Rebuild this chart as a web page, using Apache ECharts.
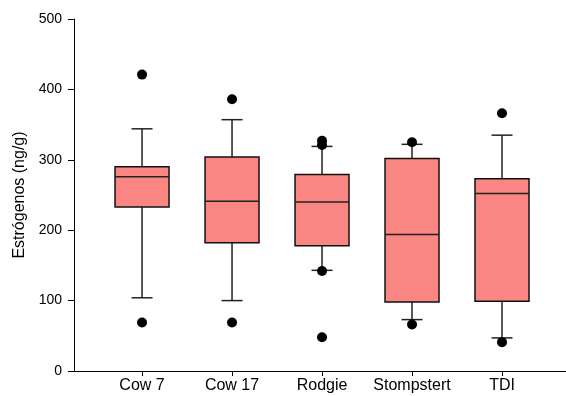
<!DOCTYPE html>
<html><head><meta charset="utf-8">
<script src="https://cdn.jsdelivr.net/npm/echarts@6/dist/echarts.min.js"></script>
<style>html,body{margin:0;padding:0;background:#fff}#c{width:566px;height:396px}</style>
</head><body><div id="c"></div>
<script>
const categories = ['Cow 7', 'Cow 17', 'Rodgie', 'Stompstert', 'TDI'];
// [lower whisker, Q1, median, Q3, upper whisker]
const boxStats = [
  [104, 233, 276, 290, 344],
  [100, 182, 241, 304, 357],
  [143, 178, 240, 279, 319],
  [73, 98, 194, 302, 322],
  [47, 99, 252, 273, 335]
];
// outliers: [category index, value]
const outliers = [
  [0, 421], [0, 69],
  [1, 386], [1, 69],
  [2, 327], [2, 321], [2, 142], [2, 48],
  [3, 325], [3, 66],
  [4, 366], [4, 41]
];
const yTicks = [0, 100, 200, 300, 400, 500];

const boxData = boxStats.map((s, i) => [i + 1].concat(s));
const outlierData = outliers.map(o => [o[0] + 1, o[1]]);
const font = 'Liberation Sans, Arial, sans-serif';

const chart = echarts.init(document.getElementById('c'));
chart.setOption({
  animation: false,
  grid: { left: 74, right: 0, top: 19, bottom: 25, containLabel: false },
  xAxis: {
    type: 'value', min: 0.244, max: 5.711,
    splitLine: { show: false },
    axisLine: { show: true, lineStyle: { color: '#000', width: 1 } },
    axisTick: { show: true, customValues: [1, 2, 3, 4, 5], length: 5, lineStyle: { color: '#000' } },
    axisLabel: {
      customValues: [1, 2, 3, 4, 5],
      formatter: v => categories[Math.round(v) - 1] || '',
      color: '#000', fontSize: 16, fontFamily: font, margin: 7
    }
  },
  yAxis: {
    type: 'value', min: yTicks[0], max: yTicks[yTicks.length - 1], interval: 100,
    name: 'Estrógenos (ng/g)', nameLocation: 'middle', nameGap: 45,
    nameTextStyle: { color: '#000', fontSize: 16, fontFamily: font },
    splitLine: { show: false },
    axisLine: { show: true, lineStyle: { color: '#000', width: 1 } },
    axisTick: { show: true, length: 6, lineStyle: { color: '#000' } },
    axisLabel: { color: '#000', fontSize: 14, fontFamily: font, margin: 12 }
  },
  series: [
    {
      type: 'custom',
      data: boxData,
      encode: { x: 0, y: [1, 2, 3, 4, 5] },
      renderItem: function (params, api) {
        const x = api.value(0);
        const p = v => api.coord([x, v]);
        const lo = p(api.value(1)), q1 = p(api.value(2)), med = p(api.value(3)),
              q3 = p(api.value(4)), hi = p(api.value(5));
        const cx = lo[0], hw = 27, cw = 10.5;
        const ls = { stroke: '#222', lineWidth: 1.5 };
        return {
          type: 'group',
          children: [
            { type: 'line', shape: { x1: cx, y1: hi[1], x2: cx, y2: q3[1] }, style: ls },
            { type: 'line', shape: { x1: cx, y1: q1[1], x2: cx, y2: lo[1] }, style: ls },
            { type: 'line', shape: { x1: cx - cw, y1: hi[1], x2: cx + cw, y2: hi[1] }, style: ls },
            { type: 'line', shape: { x1: cx - cw, y1: lo[1], x2: cx + cw, y2: lo[1] }, style: ls },
            { type: 'rect', shape: { x: cx - hw, y: q3[1], width: 2 * hw, height: q1[1] - q3[1] },
              style: { fill: '#f98683', stroke: '#111', lineWidth: 1.5 } },
            { type: 'line', shape: { x1: cx - hw, y1: med[1], x2: cx + hw, y2: med[1] }, style: ls }
          ]
        };
      },
      z: 2
    },
    {
      type: 'scatter',
      data: outlierData,
      symbol: 'circle', symbolSize: 10,
      itemStyle: { color: '#000', opacity: 1 },
      z: 3
    }
  ]
});
</script></body></html>
